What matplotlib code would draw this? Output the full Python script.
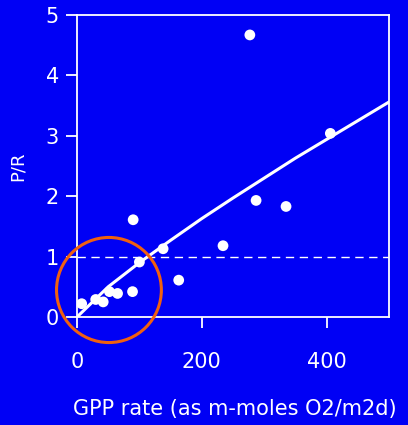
import matplotlib
matplotlib.use('Agg')
import matplotlib.pyplot as plt
from matplotlib.patches import Ellipse

# observed points: GPP rate vs P/R
gpp = [7.5, 30, 42, 52, 65, 89, 90, 100, 138, 163, 234, 277, 287, 335, 406]
pr = [0.22, 0.29, 0.25, 0.42, 0.39, 0.42, 1.61, 0.91, 1.13, 0.61, 1.18, 4.67, 1.93, 1.83, 3.04]

# trend curve
curve_x = [0, 50, 100, 150, 200, 250, 300, 350, 400, 450, 500]
curve_y = [0.0, 0.50, 0.90, 1.27, 1.63, 1.97, 2.30, 2.63, 2.94, 3.25, 3.56]

xticks = [0, 200, 400]
yticks = [0, 1, 2, 3, 4, 5]

bg = '#0000f5'
fg = 'white'

fig = plt.figure(figsize=(4.08, 4.25), dpi=100, facecolor=bg)
ax = fig.add_axes([77/408, 1 - 317/425, 312/408, 302/425])
ax.set_facecolor(bg)

ax.plot(curve_x, curve_y, color=fg, lw=2.2, zorder=3)
ax.scatter(gpp, pr, s=60, color=fg, edgecolors='none', zorder=4)
ax.axhline(1.0, color=fg, lw=1, ls=(0, (6, 4)), zorder=2)

# orange ring around the low-GPP cluster
ring = Ellipse((51.2, 0.447), 168, 1.74, fill=False, edgecolor='#f06010',
               lw=2.2, clip_on=False, zorder=5)
ax.add_patch(ring)

ax.set_xlim(0, 500)
ax.set_ylim(0, 5)
ax.set_xticks(xticks)
ax.set_yticks(yticks)
for s in ax.spines.values():
    s.set_color(fg)
    s.set_linewidth(1.3)
ax.tick_params(colors=fg, labelsize=15, length=8, width=1.3, direction='out')
ax.tick_params(axis='x', pad=17)
ax.tick_params(axis='y', pad=5)

ax.set_ylabel('P/R', color=fg, fontsize=13, labelpad=14)
ax.set_xlabel('GPP rate (as m-moles O2/m2d)', color=fg, fontsize=15)
ax.xaxis.set_label_coords(0.505, -0.272)

fig.savefig('out.png', dpi=100, facecolor=bg)
